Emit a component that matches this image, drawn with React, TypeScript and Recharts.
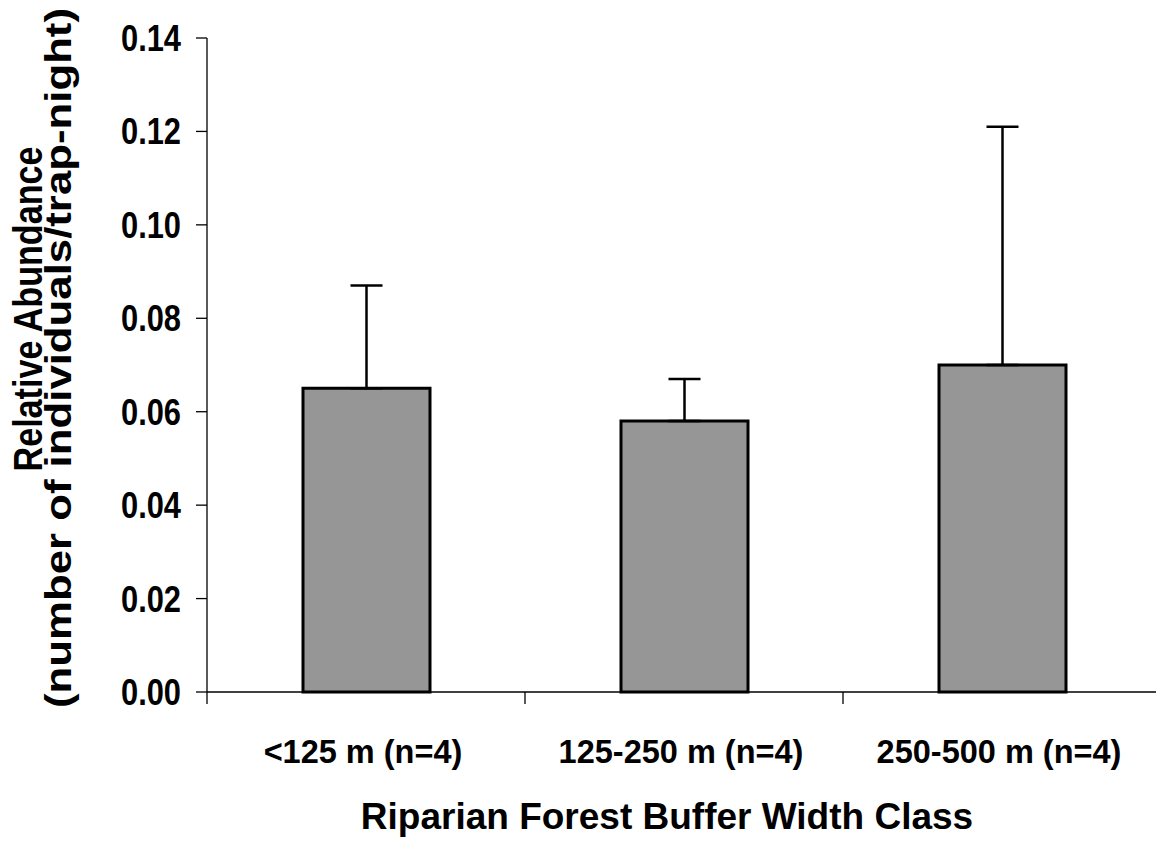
import React from 'react';
import { BarChart, Bar, XAxis, YAxis, ErrorBar } from 'recharts';

// values
const categories = ['<125 m (n=4)', '125-250 m (n=4)', '250-500 m (n=4)'];
const means = [0.065, 0.058, 0.07];
const upperErrors = [0.022, 0.009, 0.051];
const yTicks = [0, 0.02, 0.04, 0.06, 0.08, 0.1, 0.12, 0.14];

const data = categories.map((name, i) => ({
    name,
    mean: means[i],
    err: [0, upperErrors[i]],
}));

const FONT = '"Liberation Sans", Arial, sans-serif';

const YTick = (props: any) => {
    const { x, y, payload } = props;
    return (
        <text x={x - 15} y={y + 13} textAnchor="end" fontFamily={FONT} fontWeight="bold" fontSize={36}
            textLength={60} lengthAdjust="spacingAndGlyphs" fill="#000">
            {payload.value.toFixed(2)}
        </text>
    );
};

// tick marks sit on the category edges (Excel style), label in the middle
const XTick = (props: any) => {
    const { x, y, payload, index, visibleTicksCount } = props;
    const half = payload.offset || 0;
    const top = y - 12;
    return (
        <g>
            <line x1={x - half} x2={x - half} y1={top} y2={top + 12} stroke="#000" strokeWidth={1.3} />
            {index === visibleTicksCount - 1 && (
                <line x1={x + half} x2={x + half} y1={top} y2={top + 12} stroke="#000" strokeWidth={1.3} />
            )}
            <text x={x - 3} y={y + 59} textAnchor="middle" fontFamily={FONT} fontWeight="bold" fontSize={32.5} fill="#000">
                {payload.value}
            </text>
        </g>
    );
};

const XTitle = () => (
    <text x={667} y={829} textAnchor="middle" fontFamily={FONT} fontWeight="bold" fontSize={37} fill="#000">
        Riparian Forest Buffer Width Class
    </text>
);

const YTitle = () => (
    <g fontFamily={FONT} fontWeight="bold" fill="#000">
        <text transform="translate(42,309) rotate(-90)" textAnchor="middle" fontSize={40}
            textLength={325} lengthAdjust="spacingAndGlyphs">
            Relative Abundance
        </text>
        <text transform="translate(70.5,358) rotate(-90)" textAnchor="middle" fontSize={36.5}
            textLength={700} lengthAdjust="spacingAndGlyphs">
            (number of individuals/trap-night)
        </text>
    </g>
);

export default function App() {
    return (
        <div style={{ position: 'absolute', left: 0, top: 0, width: 1156, height: 844, overflow: 'hidden', background: '#fff' }}>
            <BarChart width={1170} height={844} data={data} margin={{ top: 38, right: 9, left: 0, bottom: 0 }}>
                <XAxis
                    dataKey="name"
                    height={152}
                    tickLine={false}
                    tickSize={12}
                    tickMargin={0}
                    tick={<XTick />}
                    interval={0}
                    axisLine={{ stroke: '#000', strokeWidth: 1.3 }}
                    label={{ content: () => <XTitle /> }}
                />
                <YAxis
                    domain={[0, 0.14]}
                    ticks={yTicks}
                    width={207}
                    tickSize={11}
                    tickMargin={0}
                    tick={<YTick />}
                    tickLine={{ stroke: '#000', strokeWidth: 1.3 }}
                    axisLine={{ stroke: '#000', strokeWidth: 1.3 }}
                    interval={0}
                    label={{ content: () => <YTitle /> }}
                />
                <Bar dataKey="mean" fill="#969696" stroke="#000" strokeWidth={3} barSize={127} isAnimationActive={false}>
                    <ErrorBar dataKey="err" direction="y" width={16} stroke="#000" strokeWidth={2.5} />
                </Bar>
            </BarChart>
        </div>
    );
}
